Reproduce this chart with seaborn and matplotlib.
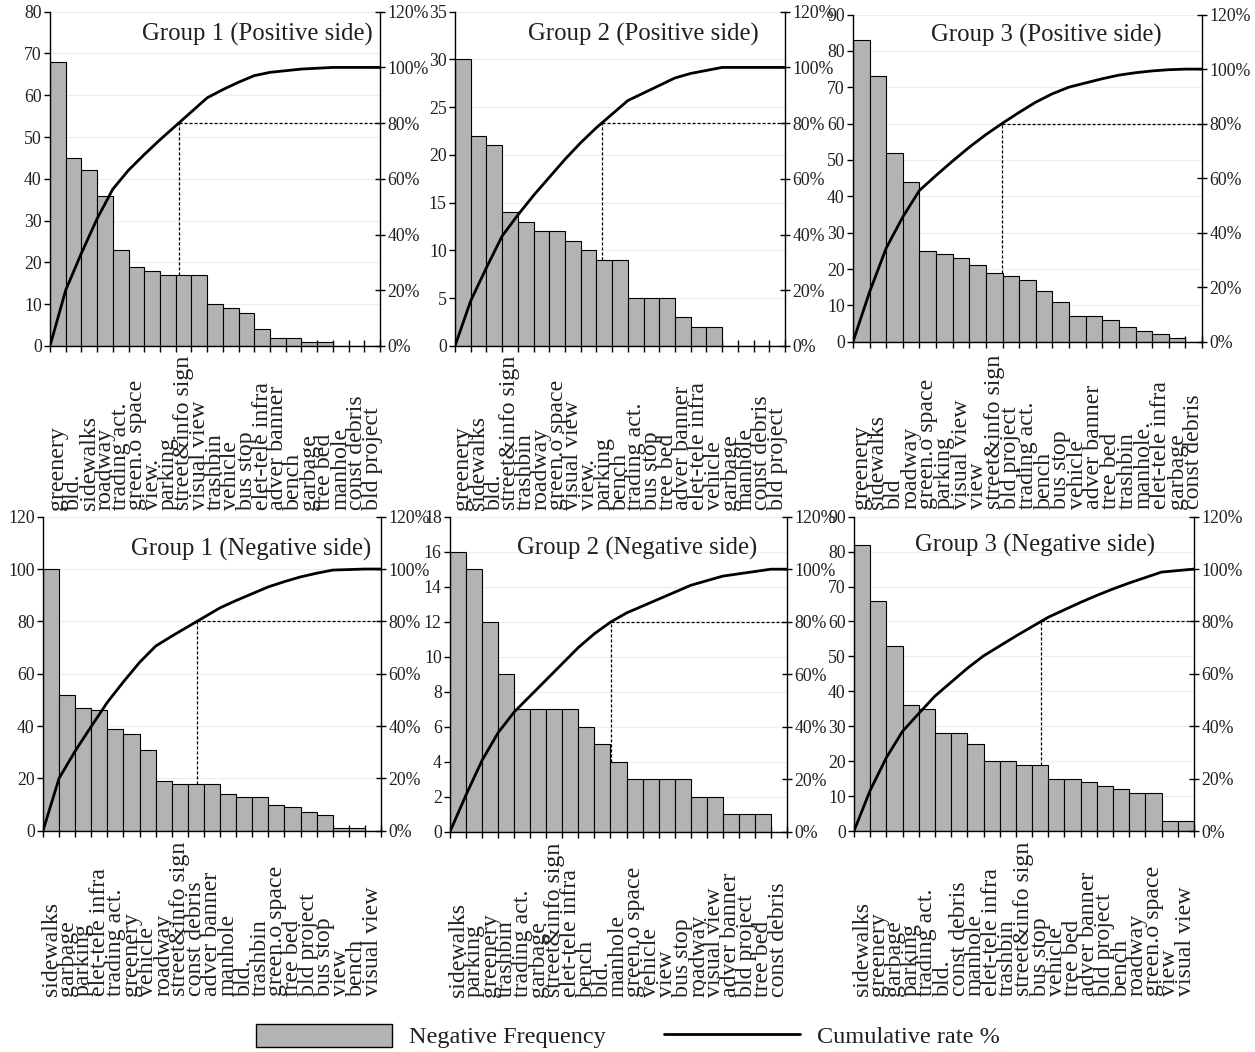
import numpy as np
import pandas as pd
import matplotlib
matplotlib.use("Agg")
import matplotlib.pyplot as plt
import seaborn as sns
from matplotlib.patches import Patch
from matplotlib.lines import Line2D
from matplotlib import transforms

# ---------------- data ----------------
g1_pos_labels = ["greenery", "bld.", "sidewalks", "roadway", "trading act.", "green.o space",
                 "view.", "parking", "street&info sign", "visual view", "trashbin", "vehicle",
                 "bus stop", "elet-tele infra", "adver banner", "bench", "garbage", "tree bed",
                 "manhole", "const debris", "bld project"]
g1_pos_values = [68, 45, 42, 36, 23, 19, 18, 17, 17, 17, 10, 9, 8, 4, 2, 2, 1, 1, 0, 0, 0]

g2_pos_labels = ["greenery", "sidewalks", "bld.", "street&info sign", "trashbin", "roadway",
                 "green.o space", "visual view", "view.", "parking", "bench", "trading act.",
                 "bus stop", "tree bed", "adver banner", "elet-tele infra", "vehicle", "garbage",
                 "manhole", "const debris", "bld project"]
g2_pos_values = [30, 22, 21, 14, 13, 12, 12, 11, 10, 9, 9, 5, 5, 5, 3, 2, 2, 0, 0, 0, 0]

g3_pos_labels = ["greenery", "sidewalks", "bld", "roadway", "green.o space", "parking",
                 "visual view", "view", "street&info sign", "bld project", "trading act.",
                 "bench", "bus stop", "vehicle", "adver banner", "tree bed", "trashbin",
                 "manhole.", "elet-tele infra", "garbage", "const debris"]
g3_pos_values = [83, 73, 52, 44, 25, 24, 23, 21, 19, 18, 17, 14, 11, 7, 7, 6, 4, 3, 2, 1, 0]

g1_neg_labels = ["sidewalks", "garbage", "parking", "elet-tele infra", "trading act.", "greenery",
                 "vehicle", "roadway", "street&info sign", "const debris", "adver banner",
                 "manhole", "bld.", "trashbin", "green.o space", "tree bed", "bld project",
                 "bus stop", "view", "bench", "visual view"]
g1_neg_values = [100, 52, 47, 46, 39, 37, 31, 19, 18, 18, 18, 14, 13, 13, 10, 9, 7, 6, 1, 1, 0]

g2_neg_labels = ["sidewalks", "parking", "greenery", "trashbin", "trading act.", "garbage",
                 "street&info sign", "elet-tele infra", "bench", "bld.", "manhole",
                 "green.o space", "vehicle", "view", "bus stop", "roadway", "visual view",
                 "adver banner", "bld project", "tree bed", "const debris"]
g2_neg_values = [16, 15, 12, 9, 7, 7, 7, 7, 6, 5, 4, 3, 3, 3, 3, 2, 2, 1, 1, 1, 0]

g3_neg_labels = ["sidewalks", "greenery", "garbage", "parking", "trading act.", "bld.",
                 "const debris", "manhole", "elet-tele infra", "trashbin", "street&info sign",
                 "bus stop", "vehicle", "tree bed", "adver banner", "bld project", "bench",
                 "roadway", "green.o space", "view", "visual view"]
g3_neg_values = [82, 66, 53, 36, 35, 28, 28, 25, 20, 20, 19, 19, 15, 15, 14, 13, 12, 11, 11, 3, 3]

titles = ["Group 1 (Positive side)", "Group 2 (Positive side)", "Group 3 (Positive side)",
          "Group 1 (Negative side)", "Group 2 (Negative side)", "Group 3 (Negative side)"]
left_max = [80, 35, 90, 120, 18, 90]
left_step = [10, 5, 10, 20, 2, 10]
legend_labels = ["Negative Frequency", "Cumulative rate %"]

panels = [
    (g1_pos_labels, g1_pos_values),
    (g2_pos_labels, g2_pos_values),
    (g3_pos_labels, g3_pos_values),
    (g1_neg_labels, g1_neg_values),
    (g2_neg_labels, g2_neg_values),
    (g3_neg_labels, g3_neg_values),
]

# ---------------- layout (pixels) ----------------
W, H = 1255, 1052
boxes = [  # left, top, right, bottom
    (50, 11.7, 380, 346),
    (455, 11.7, 785, 346),
    (853, 14.6, 1202, 341.7),
    (43, 516.7, 381, 830.7),
    (450, 516.7, 787, 831.7),
    (854, 516.7, 1194, 831),
]
title_pos = [(0.979, 0.932), (0.921, 0.932), (0.885, 0.937),
             (0.970, 0.897), (0.911, 0.900), (0.885, 0.910)]
label_bottom = [510, 510, 509, 996, 997, 996]

BAR = "#b3b3b3"
TXT = "#231f20"

sns.set_style("white")
plt.rcParams["font.family"] = ["Liberation Serif", "DejaVu Serif"]

fig = plt.figure(figsize=(W / 100, H / 100), dpi=100)

for idx, (labels, values) in enumerate(panels):
    l, t, r, b = boxes[idx]
    ax = fig.add_axes([l / W, 1 - b / H, (r - l) / W, (b - t) / H])
    n = len(values)
    df = pd.DataFrame({"cat": labels, "freq": values})
    sns.barplot(data=df, x="cat", y="freq", order=labels, color=BAR, edgecolor="black",
                linewidth=0.8, width=1.0, saturation=1, ax=ax, zorder=2)
    ymax = left_max[idx]
    ax.set_ylim(0, ymax)
    ax.set_yticks(np.arange(0, ymax + 0.01, left_step[idx]))
    edges = np.arange(n + 1) - 0.5
    ax.set_xticks(edges)
    ax.set_xticklabels([])
    ax.set_xlabel("")
    ax.set_ylabel("")
    ax.grid(axis="y", color="#ededed", lw=0.8)
    ax.set_axisbelow(True)
    ax.tick_params(axis="x", direction="inout", length=8, width=1, color="black", bottom=True)
    ax.tick_params(axis="y", direction="out", length=4, width=1, color="black", left=True,
                   labelsize=12.8, pad=2, labelcolor=TXT)
    for s in ["top", "right"]:
        ax.spines[s].set_visible(False)
    for s in ["left", "bottom"]:
        ax.spines[s].set_color("black")
        ax.spines[s].set_linewidth(1)

    cum = np.concatenate([[0], np.cumsum(values)]) / np.sum(values) * 100
    ax2 = ax.twinx()
    sns.lineplot(x=edges, y=cum, ax=ax2, color="black", linewidth=2)
    ax2.set_ylim(0, 120)
    ax2.set_yticks(np.arange(0, 121, 20))
    ax2.set_yticklabels([f"{v}%" for v in range(0, 121, 20)])
    ax2.set_ylabel("")
    ax2.tick_params(axis="y", direction="inout", length=7, width=1, color="black", right=True,
                    labelsize=12.8, pad=2, labelcolor=TXT)
    for s in ["top", "left", "bottom"]:
        ax2.spines[s].set_visible(False)
    ax2.spines["right"].set_color("black")
    ax2.spines["right"].set_linewidth(1)

    # 80% marker
    k = int(np.searchsorted(cum, 80) - 1)
    xc = edges[k] + (80 - cum[k]) / (cum[k + 1] - cum[k])
    bi = int(np.floor(xc + 0.5))
    ybar = values[bi] * 120 / ymax
    ax2.plot([xc, n - 0.5], [80, 80], color="black", lw=0.9, ls=(0, (2.5, 1.5)))
    ax2.plot([xc, xc], [ybar, 80], color="black", lw=0.9, ls=(0, (2.5, 1.5)))

    ax.set_xlim(-0.5, n - 0.5)
    ax2.set_xlim(-0.5, n - 0.5)

    tx, ty = title_pos[idx]
    ax2.text(tx, ty, titles[idx], transform=ax2.transAxes, ha="right", va="center",
             fontsize=17.8, color=TXT)

    trans = transforms.blended_transform_factory(ax.transData, fig.transFigure)
    for i, lab in enumerate(labels):
        ax.text(i, 1 - label_bottom[idx] / H, lab, rotation=90, ha="center", va="bottom",
                fontsize=17.2, color=TXT, transform=trans, clip_on=False,
                rotation_mode="default")

handles = [Patch(facecolor=BAR, edgecolor="black", linewidth=1),
           Line2D([0], [0], color="black", lw=2)]
fig.legend(handles, legend_labels, loc="center", bbox_to_anchor=(628 / W, 1 - 1036 / H),
           ncol=2, frameon=False, fontsize=17.5, handlelength=5.6, handleheight=1.1,
           handletextpad=0.7, columnspacing=2.4, labelcolor=TXT)

fig.savefig("out.png", dpi=100)
